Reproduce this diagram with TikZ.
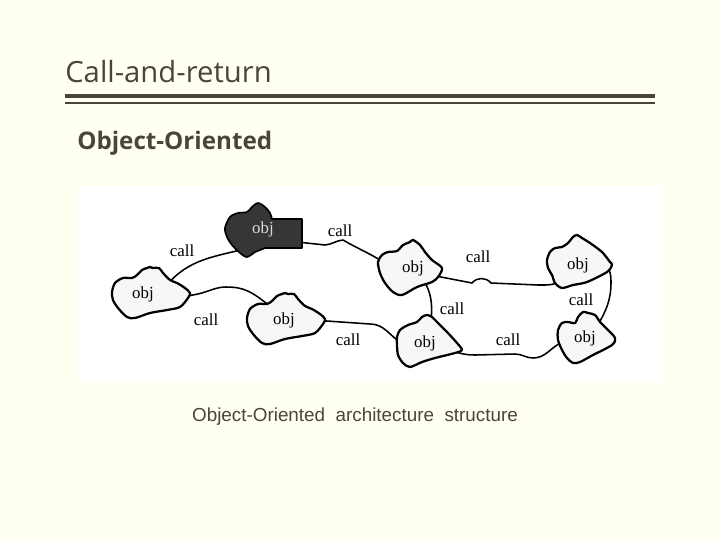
\documentclass[tikz,border=0pt]{standalone}
\usepackage{fontspec}
\setmainfont{Liberation Serif}
\newfontfamily\titlefont{Open Sans}
\newfontfamily\capfont{Liberation Sans}
\usetikzlibrary{shapes.geometric, backgrounds}
\definecolor{slidebg}{HTML}{FFFFF2}
\definecolor{slidetext}{HTML}{4A4539}
\definecolor{objdark}{HTML}{363636}
\tikzset{
    objnode/.style={ellipse, inner sep=0pt, minimum width=1.4cm, minimum height=0.75cm, font=\fontsize{12}{12}\selectfont}, % hidden ellipse, the blob is drawn behind
    calllabel/.style={font=\fontsize{12}{12}\selectfont},
    blob/.style={line width=1.6pt, fill=black!3, line join=round},
    darkblob/.style={line width=1.2pt, fill=objdark, line join=round},
    link/.style={line width=1.1pt},
}

\begin{document}
\begin{tikzpicture}[x=0.025cm, y=-0.025cm]
    % Heading
    \node[anchor=base west, inner sep=0pt, text=slidetext, font=\titlefont\fontsize{20.8}{20.8}\selectfont] (title) at (65,82) {Call-and-return};
    \node[anchor=base west, inner sep=0pt, text=slidetext, font=\titlefont\bfseries\fontsize{17.2}{17.2}\selectfont] (sub) at (77,149) {Object-Oriented};
    \node[anchor=base, inner sep=0pt, text=slidetext, font=\capfont\fontsize{13.4}{13.4}\selectfont] (caption) at (355,421) {Object-Oriented\ \ architecture\ \ structure};

    % Objects
    \node[objnode, text=white!85!black, minimum width=1.6cm, minimum height=1cm] (dk) at (263,229) {obj};
    \node[objnode] (o1) at (143,294) {obj};
    \node[objnode] (o2) at (284,320) {obj};
    \node[objnode, minimum width=1.2cm] (o3) at (413,268) {obj};
    \node[objnode, minimum width=1.2cm] (o4) at (578,265) {obj};
    \node[objnode, minimum width=1.15cm] (o5) at (425,343) {obj};
    \node[objnode, minimum width=1.1cm] (o6) at (585,338) {obj};

    % Labels
    \node[calllabel] (l1) at (182,251) {call};
    \node[calllabel] (l2) at (340,231) {call};
    \node[calllabel] (l3) at (206,320) {call};
    \node[calllabel] (l4) at (348,340) {call};
    \node[calllabel] (l5) at (452,309) {call};
    \node[calllabel] (l6) at (478,257) {call};
    \node[calllabel] (l7) at (581,300) {call};
    \node[calllabel] (l8) at (508,340) {call};

    \begin{pgfonlayer}{background}
        \path[use as bounding box, fill=slidebg] (0,0) rectangle (720,540);
        \fill[white] (78,186) rectangle (662,381);
        \draw[slidetext, line width=2.8pt] (65,96) -- (655,96);
        \draw[slidetext, line width=1.4pt] (65,103) -- (655,103);

        % Calls
        \draw[link] (o1.20) to[out=50, in=195] (dk.235);
        \draw[link] (dk.-25) -- (325,245) to[out=5, in=185] (343,240) to[out=-30, in=145] (o3.175);
        \draw[link] (o1.-5) .. controls (205,297) and (210,287) .. (226,287) .. controls (245,287) and (252,292) .. (o2.135);
        \draw[link] (o2.0) -- (370,324) to[out=0, in=150] (o5.180);
        \draw[link] (o3.-50) to[out=-60, in=85] (o5.70);
        \draw[link] (o3.-20) -- (472,283) .. controls (477,277) and (486,277) .. (491,283) -- (538,285) to[out=0, in=235] (o4.220);
        \draw[link] (o4.east) to[out=0, in=90] (611,282) to[out=-90, in=60] (o6.45);
        \draw[link] (o5.-15) to[out=-20, in=180] (475,355) -- (515,354) to[out=0, in=180] (533,358) to[out=0, in=200] (o6.190);

        % Blobs
        \draw[darkblob, shift={(dk.center)}] (39,-10) -- (39,19) -- (2,19) -- plot[smooth, tension=0.5] coordinates {(-8,23) (-16,28) (-23,24) (-31,16) (-36,8) (-38,-1) (-33,-12) (-25,-16) (-16,-17) (-11,-22) (-5,-26) (2,-22) (7,-16) (9,-10)} -- cycle;
        \draw[blob, shift={(o1.center)}] plot[smooth cycle, tension=0.5] coordinates {(-31,-2) (-28,-11) (-20,-16) (-11,-16) (-6,-19) (-1,-24) (4,-26) (7,-27) (10,-26) (16,-26) (20,-21) (27,-14) (34,-11) (42,-6) (47,-1) (45,4) (37,13) (24,16) (7,19) (-8,24) (-16,23) (-25,14) (-30,6)};
        \draw[blob, shift={(o2.center)}] plot[smooth cycle, tension=0.5] coordinates {(-37,-2) (-34,-11) (-26,-16) (-17,-16) (-12,-19) (-7,-24) (-2,-26) (1,-27) (4,-26) (10,-26) (14,-21) (21,-14) (28,-11) (36,-6) (41,-1) (39,4) (31,13) (18,16) (1,19) (-14,24) (-22,23) (-31,14) (-36,6)};
        \draw[blob, shift={(o3.center)}] plot[smooth cycle, tension=0.5] coordinates {(-35,-6) (-31,-13) (-25,-16) (-16,-17) (-10,-23) (-3,-26) (0,-28) (7,-23) (12,-16) (19,-8) (29,0) (25,9) (19,14) (4,19) (-11,27) (-20,24) (-28,15) (-33,5)};
        \draw[blob, shift={(o4.center)}] plot[smooth cycle, tension=0.5] coordinates {(-31,-5) (-28,-13) (-23,-17) (-16,-18) (-10,-22) (-5,-28) (-1,-30) (4,-27) (12,-22) (24,-13) (32,-3) (34,0) (29,7) (9,17) (-5,20) (-16,23) (-23,18) (-26,10) (-30,3)};
        \draw[blob, shift={(o5.center)}] plot[smooth cycle, tension=0.5] coordinates {(-28,-6) (-25,-13) (-17,-18) (-8,-21) (-3,-26) (2,-28) (7,-26) (13,-20) (22,-11) (32,0) (37,7) (30,10) (10,15) (-3,19) (-15,24) (-22,20) (-27,12) (-28,2)};
        \draw[blob, shift={(o6.center)}] plot[smooth cycle, tension=0.5] coordinates {(-27,-8) (-23,-15) (-17,-16) (-10,-15) (-7,-21) (-2,-26) (3,-25) (10,-23) (15,-16) (23,-8) (30,0) (27,7) (8,17) (-5,24) (-12,25) (-18,20) (-23,12) (-27,2)};
    \end{pgfonlayer}
\end{tikzpicture}
\end{document}
